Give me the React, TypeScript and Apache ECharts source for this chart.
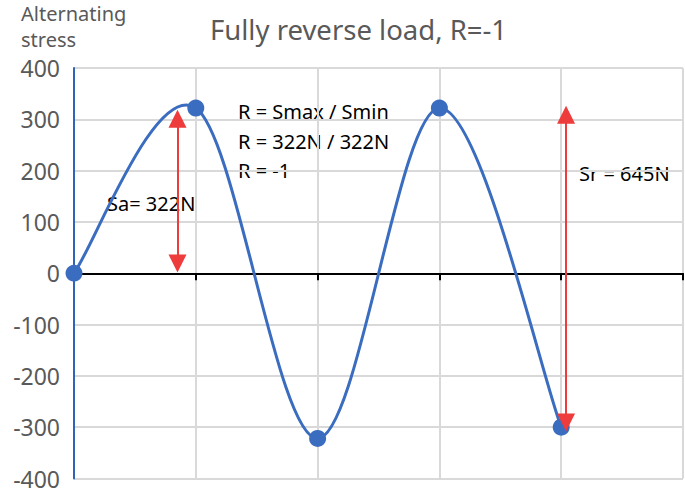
import React, { useEffect, useRef } from "react";
import * as echarts from "echarts";

const xValues = [0, 1, 2, 3, 4];
const stressValues = [0, 322, -322, 322, -300];
const yTicks = { min: -400, max: 400, interval: 100 };
const saArrow = { x: 0.85, from: 19, to: 301 };
const srArrow = { x: 4.04, from: -291, to: 309 };
const titleText = "Fully reverse load, R=-1";
const yName = "Alternating\nstress";
const noteLines = ["R = Smax / Smin", "R = 322N / 322N", "R = -1"];
const saLabel = "Sa= 322N";
const srLabel = "Sr = 645N";

const FONT = "'Noto Sans', sans-serif";
const BLUE = "#3a6cbf";

export default function App() {
  const ref = useRef<HTMLDivElement>(null);
  useEffect(() => {
    if (!ref.current) return;
    const chart = echarts.init(ref.current, null, { renderer: "svg" });
    const arrowLine = (a: { x: number; from: number; to: number }) => [
      { coord: [a.x, a.from] },
      { coord: [a.x, a.to] },
    ];
    const points = xValues.map((x, i) => [x, stressValues[i]]);
    const n = points.length;
    chart.setOption({
      animation: false,
      backgroundColor: "#ffffff",
      title: {
        text: titleText,
        left: 205,
        top: 10,
        textStyle: { fontFamily: FONT, fontSize: 27.5, fontWeight: "normal", color: "#595959" },
      },
      grid: { left: 74, right: 2, top: 68, bottom: 10, containLabel: false },
      xAxis: {
        type: "value",
        min: 0,
        max: 5,
        interval: 1,
        axisLine: { show: true, onZero: true, lineStyle: { color: "#000000", width: 2 } },
        axisTick: { show: true, length: 7, lineStyle: { color: "#000000", width: 2 } },
        axisLabel: { show: false },
        splitLine: { show: true, lineStyle: { color: "#d9d9d9", width: 2 } },
      },
      yAxis: {
        type: "value",
        min: yTicks.min,
        max: yTicks.max,
        interval: yTicks.interval,
        axisLine: { show: true, onZero: false, lineStyle: { color: "#2f64b8", width: 2 } },
        axisTick: { show: false },
        axisLabel: { fontFamily: FONT, fontSize: 23, color: "#595959", margin: 14 },
        splitLine: { show: true, lineStyle: { color: "#d9d9d9", width: 2 } },
      },
      series: [
        {
          type: "custom",
          data: points,
          z: 3,
          renderItem: (params: any, api: any) => {
            const i = params.dataIndex;
            if (i >= n - 1) return { type: "group", children: [] };
            const c = (j: number) => {
              const k = Math.max(0, Math.min(n - 1, j));
              return api.coord(points[k]);
            };
            const p0 = c(i - 1);
            const p1 = c(i);
            const p2 = c(i + 1);
            const p3 = c(i + 2);
            return {
              type: "bezierCurve",
              shape: {
                x1: p1[0],
                y1: p1[1],
                cpx1: p1[0] + (p2[0] - p0[0]) / 6,
                cpy1: p1[1] + (p2[1] - p0[1]) / 6,
                cpx2: p2[0] - (p3[0] - p1[0]) / 6,
                cpy2: p2[1] - (p3[1] - p1[1]) / 6,
                x2: p2[0],
                y2: p2[1],
              },
              style: { stroke: BLUE, lineWidth: 3, fill: "none" },
            };
          },
        },
        {
          type: "line",
          data: points,
          symbol: "circle",
          symbolSize: 17,
          itemStyle: { color: BLUE },
          lineStyle: { opacity: 0 },
          z: 4,
          markLine: {
            silent: true,
            symbol: ["triangle", "triangle"],
            symbolSize: [18, 18],
            label: { show: false },
            lineStyle: { color: "#ee3b3b", width: 2, type: "solid" },
            data: [arrowLine(saArrow), arrowLine(srArrow)],
            z: 5,
          },
        },
      ],
      graphic: [
        {
          type: "text",
          left: 21,
          top: 0,
          style: {
            text: yName,
            fontFamily: FONT,
            fontSize: 20,
            lineHeight: 26,
            fill: "#595959",
            align: "center",
            width: 110,
          },
        },
        {
          type: "text",
          left: 238,
          top: 97,
          style: {
            text: noteLines.join("\n"),
            fontFamily: FONT,
            fontSize: 20,
            lineHeight: 29.5,
            fill: "#000000",
          },
        },
        {
          type: "text",
          left: 107,
          top: 193,
          style: { text: saLabel, fontFamily: FONT, fontSize: 20, fill: "#000000" },
        },
        {
          type: "text",
          left: 579,
          top: 163,
          style: { text: srLabel, fontFamily: FONT, fontSize: 20, fill: "#000000" },
        },
      ],
    });
    return () => chart.dispose();
  }, []);
  return <div ref={ref} style={{ width: 685, height: 490, position: "absolute", left: 0, top: 0 }} />;
}
